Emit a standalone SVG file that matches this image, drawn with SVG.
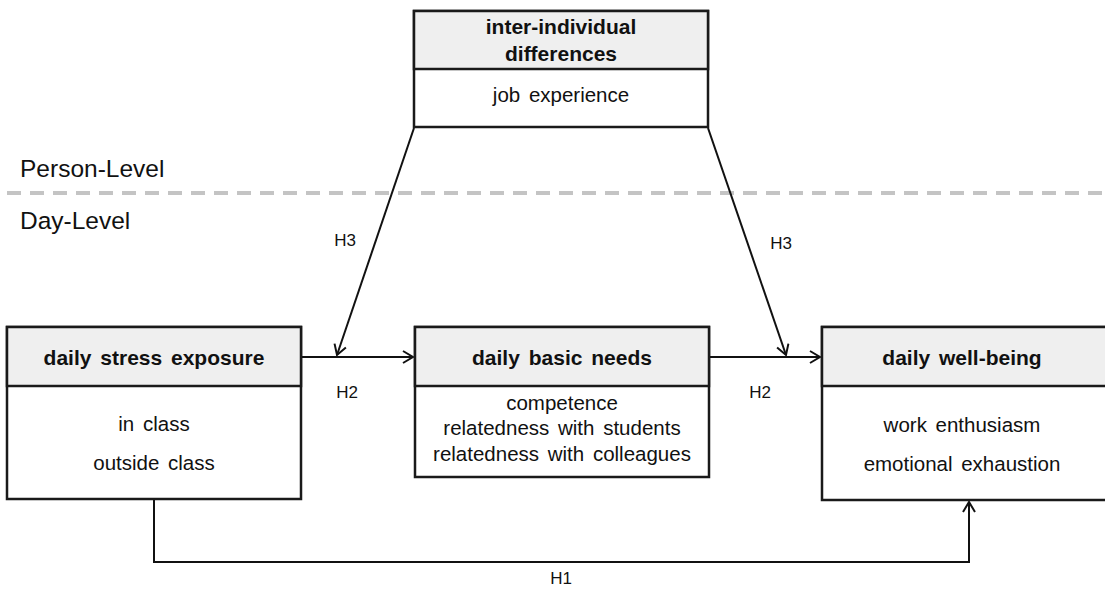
<svg xmlns="http://www.w3.org/2000/svg" width="1105" height="594" viewBox="0 0 1105 594">
<style>
.box{fill:#ffffff;stroke:#1a1a1a;stroke-width:2.5}
.hdr{fill:#efefef;stroke:#1a1a1a;stroke-width:2.5}
.t{font-family:"Liberation Sans",Arial,sans-serif;font-size:20.5px;fill:#111;text-anchor:middle;word-spacing:3px}
.b{font-weight:bold;font-size:21px}
.lvl{font-family:"Liberation Sans",Arial,sans-serif;font-size:24.5px;fill:#111}
.h{font-family:"Liberation Sans",Arial,sans-serif;font-size:17px;fill:#111;text-anchor:middle}
.ln{fill:none;stroke:#111;stroke-width:2}
</style>
<defs>
<marker id="arr" markerWidth="14" markerHeight="14" refX="11" refY="7" orient="auto" markerUnits="userSpaceOnUse">
<path d="M1,1 L11,7 L1,13" fill="none" stroke="#111" stroke-width="2"/>
</marker>
</defs>
<rect width="1105" height="594" fill="#ffffff"/>
<text class="lvl" x="20" y="177">Person-Level</text>
<line x1="7" y1="193" x2="1105" y2="193" stroke="#c4c4c4" stroke-width="4" stroke-dasharray="14,9"/>
<text class="lvl" x="20" y="229">Day-Level</text>

<g id="connectors">
<line class="ln" x1="414" y1="128" x2="337" y2="355" marker-end="url(#arr)"/>
<line class="ln" x1="708" y1="128" x2="786" y2="355" marker-end="url(#arr)"/>
<line class="ln" x1="301" y1="357" x2="413" y2="357" marker-end="url(#arr)"/>
<line class="ln" x1="709" y1="357" x2="820" y2="357" marker-end="url(#arr)"/>
<polyline class="ln" points="154,499 154,562 969,562 969,502" marker-end="url(#arr)"/>
<text class="h" x="345" y="246">H3</text>
<text class="h" x="781" y="249">H3</text>
<text class="h" x="347" y="398">H2</text>
<text class="h" x="760" y="398">H2</text>
<text class="h" x="561" y="584">H1</text>
</g>

<g id="node-inter">
<rect class="box" x="414" y="11" width="294" height="116"/>
<rect class="hdr" x="414" y="11" width="294" height="58"/>
<text class="t b" x="561" y="34">inter-individual</text>
<text class="t b" x="561" y="61">differences</text>
<text class="t" x="561" y="102">job experience</text>
</g>

<g id="node-stress">
<rect class="box" x="7" y="327" width="294" height="172"/>
<rect class="hdr" x="7" y="327" width="294" height="59"/>
<text class="t b" x="154" y="365">daily stress exposure</text>
<text class="t" x="154" y="431">in class</text>
<text class="t" x="154" y="470">outside class</text>
</g>

<g id="node-needs">
<rect class="box" x="415" y="327" width="294" height="150"/>
<rect class="hdr" x="415" y="327" width="294" height="59"/>
<text class="t b" x="562" y="365">daily basic needs</text>
<text class="t" x="562" y="410">competence</text>
<text class="t" x="562" y="435">relatedness with students</text>
<text class="t" x="562" y="461">relatedness with colleagues</text>
</g>

<g id="node-wellbeing">
<rect class="box" x="822" y="327" width="290" height="173"/>
<rect class="hdr" x="822" y="327" width="290" height="59"/>
<text class="t b" x="962" y="365">daily well-being</text>
<text class="t" x="962" y="432">work enthusiasm</text>
<text class="t" x="962" y="471">emotional exhaustion</text>
</g>
</svg>
